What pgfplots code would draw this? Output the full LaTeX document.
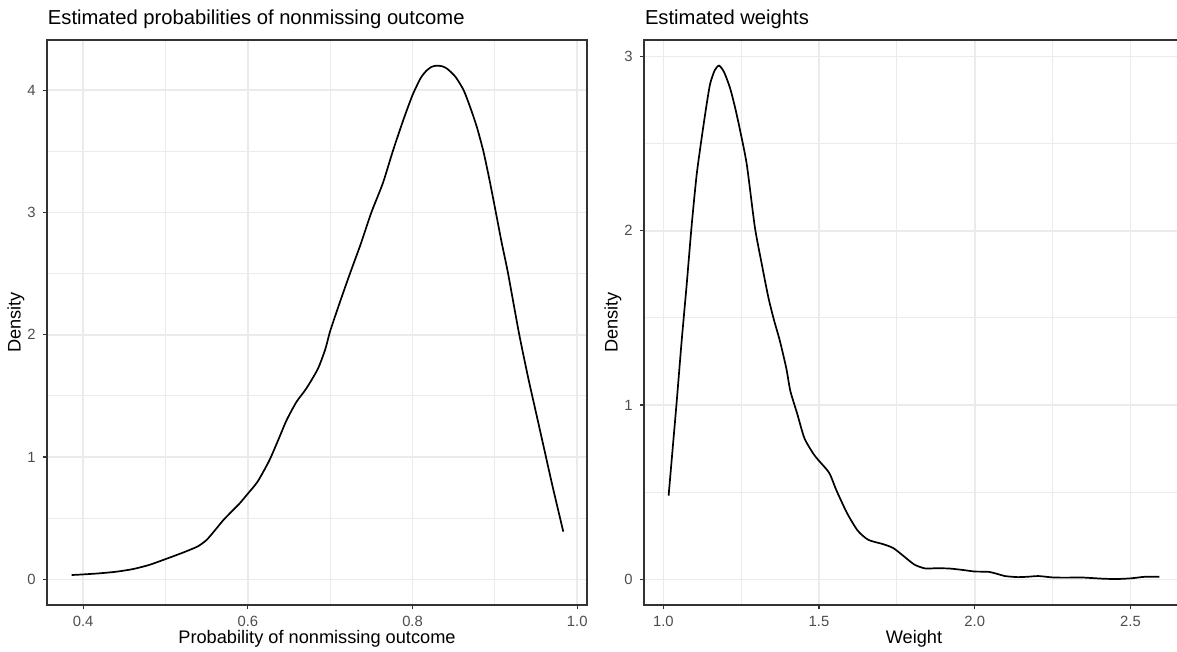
\documentclass[border=0pt]{standalone}
\usepackage{pgfplots}
\pgfplotsset{compat=1.18}
\usepackage{fontspec}
\setmainfont{Liberation Sans}
\definecolor{gridc}{HTML}{EBEBEB}
\definecolor{gtwenty}{HTML}{333333}
\definecolor{gthirty}{HTML}{4D4D4D}

\pgfplotstableread{
x y
0.386 0.035
0.400 0.040
0.420 0.049
0.440 0.062
0.460 0.083
0.480 0.117
0.500 0.165
0.520 0.215
0.530 0.242
0.540 0.272
0.550 0.322
0.560 0.400
0.570 0.482
0.580 0.552
0.590 0.620
0.600 0.700
0.612 0.800
0.626 0.970
0.637 1.140
0.647 1.300
0.659 1.450
0.671 1.560
0.685 1.720
0.694 1.880
0.700 2.030
0.712 2.270
0.724 2.500
0.737 2.740
0.750 3.000
0.764 3.240
0.776 3.500
0.789 3.760
0.800 3.960
0.810 4.100
0.817 4.160
0.823 4.190
0.829 4.200
0.836 4.195
0.842 4.175
0.852 4.110
0.862 4.000
0.870 3.860
0.878 3.700
0.886 3.500
0.893 3.280
0.900 3.040
0.908 2.760
0.916 2.500
0.929 2.020
0.940 1.660
0.950 1.360
0.960 1.060
0.970 0.760
0.983 0.390
}\probdata

\pgfplotstableread{
x y
1.017 0.480
1.030 0.750
1.043 1.020
1.059 1.370
1.075 1.690
1.091 2.030
1.107 2.320
1.123 2.530
1.137 2.700
1.150 2.840
1.165 2.920
1.179 2.947
1.195 2.910
1.214 2.820
1.230 2.710
1.246 2.580
1.268 2.380
1.294 2.020
1.316 1.810
1.337 1.620
1.355 1.490
1.374 1.370
1.395 1.210
1.408 1.080
1.430 0.950
1.453 0.810
1.482 0.720
1.500 0.680
1.533 0.610
1.556 0.510
1.590 0.380
1.624 0.280
1.658 0.227
1.704 0.203
1.738 0.180
1.772 0.133
1.806 0.085
1.840 0.063
1.880 0.064
1.920 0.062
1.966 0.053
2.000 0.045
2.045 0.043
2.075 0.030
2.097 0.019
2.137 0.013
2.170 0.015
2.205 0.019
2.251 0.011
2.300 0.010
2.342 0.011
2.410 0.004
2.456 0.002
2.502 0.006
2.547 0.015
2.593 0.015
}\weightdata

\pgfplotsset{
 ggstyle/.style={
  scale only axis,
  width=270pt, height=282.5pt,
  anchor=south west,
  axis line style={gtwenty, line width=0.55pt},
  tick align=outside,
  xtick pos=bottom, ytick pos=left,
  major tick length=2.2pt,
  minor tick length=0pt,
  every tick/.style={gtwenty, line width=0.55pt},
  grid=both,
  major grid style={gridc, line width=0.8pt},
  minor grid style={gridc, line width=0.45pt},
  tick label style={font=\fontsize{7.4}{9}\selectfont, text=gthirty},
  label style={font=\fontsize{9.1}{11}\selectfont},
  every axis title/.style={font=\fontsize{10.1}{12}\selectfont, at={(0,1)}, anchor=base west, inner sep=0pt, xshift=0.3pt, yshift=7.5pt},
  xlabel style={at={(axis description cs:0.5,0)}, anchor=center, yshift=-17pt},
  /pgf/number format/assume math mode=true,
 }
}

\begin{document}
\begin{tikzpicture}
\useasboundingbox (0,0) rectangle (588.5pt,326pt);
\begin{axis}[ggstyle,
  at={(23.5pt,23.5pt)},
  xmin=0.3562, xmax=1.0118, ymin=-0.21, ymax=4.41,
  xtick={0.4,0.6,0.8,1.0}, xticklabels={0.4,0.6,0.8,1.0},
  minor xtick={0.5,0.7,0.9},
  ytick={0,1,2,3,4}, yticklabels={0,1,2,3,4},
  minor ytick={0.5,1.5,2.5,3.5},
  title={Estimated probabilities of nonmissing outcome},
  xlabel={Probability of nonmissing outcome},
  ylabel={Density},
  ylabel style={at={(axis description cs:-0.0574,0.5)}, anchor=center},
]
\addplot[black, line width=0.85pt, smooth, tension=0.4] table[x=x,y=y]{\probdata};
\end{axis}
\begin{axis}[ggstyle,
  at={(322pt,23.5pt)},
  xmin=0.938, xmax=2.672, ymin=-0.147, ymax=3.094,
  xtick={1.0,1.5,2.0,2.5}, xticklabels={1.0,1.5,2.0,2.5},
  minor xtick={1.25,1.75,2.25},
  ytick={0,1,2,3}, yticklabels={0,1,2,3},
  minor ytick={0.5,1.5,2.5},
  title={Estimated weights},
  xlabel={Weight},
  ylabel={Density},
  ylabel style={at={(axis description cs:-0.0574,0.5)}, anchor=center},
]
\addplot[black, line width=0.85pt, smooth, tension=0.4] table[x=x,y=y]{\weightdata};
\end{axis}
\end{tikzpicture}
\end{document}
